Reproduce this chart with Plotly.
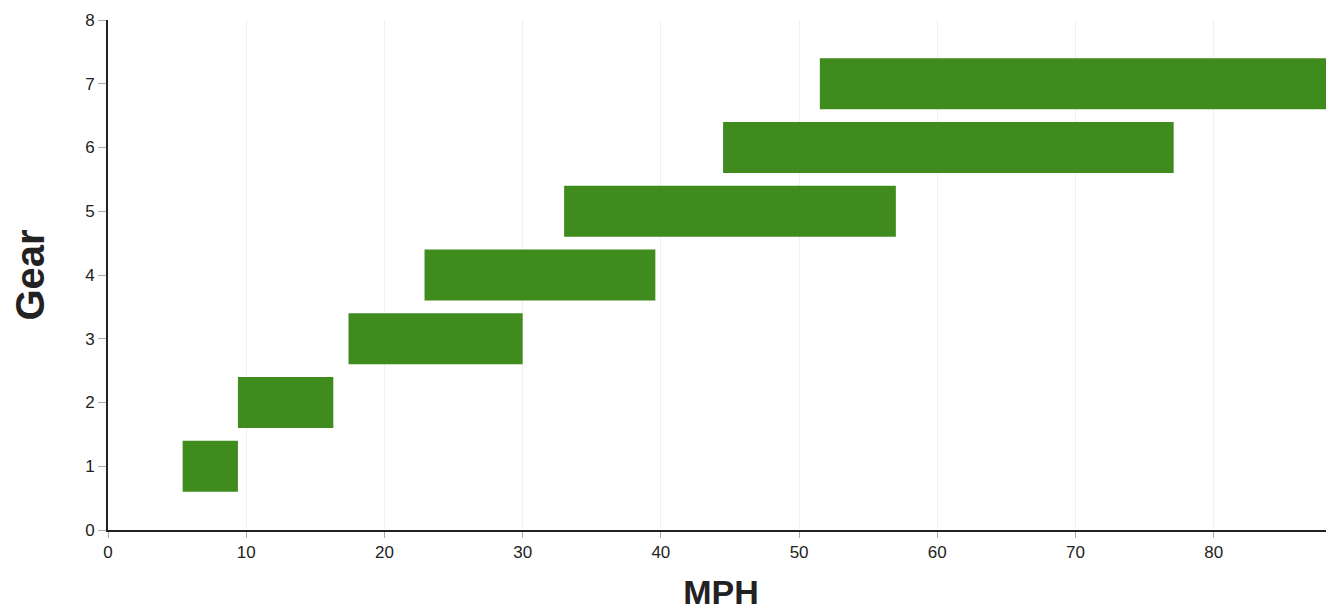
import plotly.graph_objects as go

gears = [1, 2, 3, 4, 5, 6, 7]
mph_start = [5.4, 9.4, 17.4, 22.9, 33.0, 44.5, 51.5]
mph_end = [9.4, 16.3, 30.0, 39.6, 57.0, 77.1, 95.0]
x_ticks = [0, 10, 20, 30, 40, 50, 60, 70, 80]
y_ticks = [0, 1, 2, 3, 4, 5, 6, 7, 8]

widths = [e - s for s, e in zip(mph_start, mph_end)]

fig = go.Figure()
fig.add_trace(go.Bar(
    y=gears, x=widths, base=mph_start, orientation="h", width=0.8,
    marker=dict(color="#3f8b1d", line=dict(width=0)),
    showlegend=False,
))

fig.update_layout(
    width=1326, height=603,
    margin=dict(l=100, r=0, t=12, b=81),
    paper_bgcolor="white", plot_bgcolor="white",
    font=dict(family="Liberation Sans, Arial, sans-serif", size=17, color="#222"),
    xaxis=dict(
        range=[0, 88.7], tickvals=x_ticks, ticks="outside", ticklen=6,
        tickcolor="#aaa", showline=True, linecolor="#222", linewidth=2,
        showgrid=True, gridcolor="#f0f0f0", gridwidth=1, zeroline=False,
        title=dict(text="<b>MPH</b>", font=dict(size=34, color="#222"), standoff=24),
    ),
    yaxis=dict(
        range=[0, 8], tickvals=y_ticks, ticks="outside", ticklen=8,
        tickcolor="#aaa", showline=True, linecolor="#222", linewidth=2,
        showgrid=False, zeroline=False,
        title=dict(text="<b>Gear</b>", font=dict(size=40, color="#222"), standoff=32),
    ),
)

fig.write_html("out.html")
